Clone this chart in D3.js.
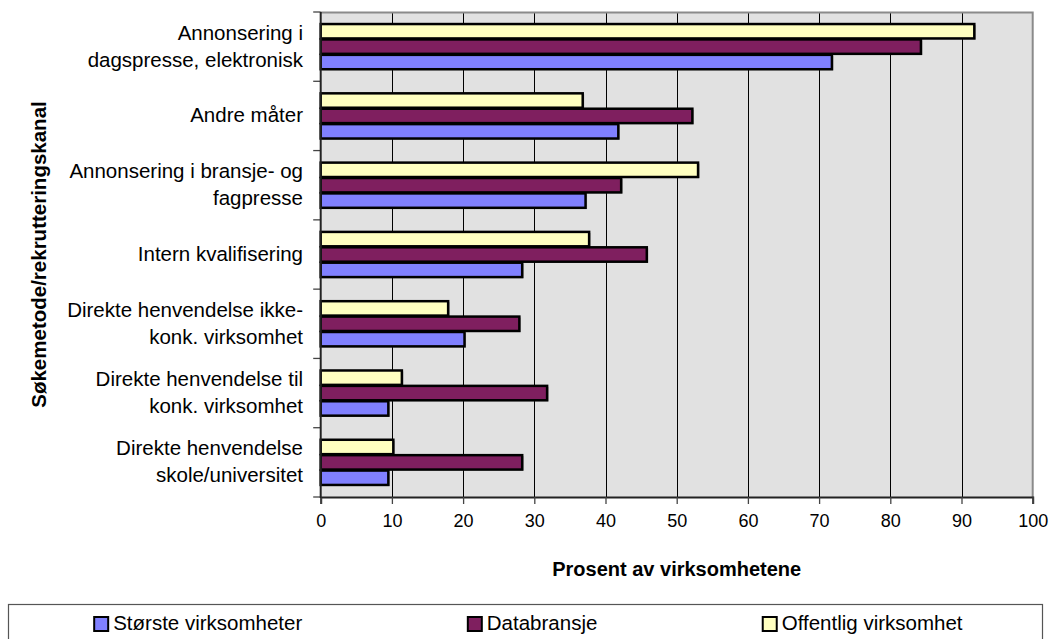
<!DOCTYPE html>
<html>
<head>
<meta charset="utf-8">
<script src="https://cdn.jsdelivr.net/npm/d3@7"></script>
<style>
  html, body { margin: 0; padding: 0; background: #fff; }
  svg { display: block; font-family: "Liberation Sans", Arial, sans-serif; }
</style>
</head>
<body>
<svg id="chart" width="1052" height="639"></svg>
<script>
// Recruitment channels, top to bottom
const categories = [
  "Annonsering i\ndagspresse, elektronisk",
  "Andre måter",
  "Annonsering i bransje- og\nfagpresse",
  "Intern kvalifisering",
  "Direkte henvendelse ikke-\nkonk. virksomhet",
  "Direkte henvendelse til\nkonk. virksomhet",
  "Direkte henvendelse\nskole/universitet"
];

// Percent of companies per channel
const storsteVirksomheter = [71.8, 41.8, 37.2, 28.3, 20.2, 9.5, 9.5];
const databransje        = [84.3, 52.2, 42.2, 45.8, 27.9, 31.8, 28.3];
const offentligVirksomhet = [91.8, 36.8, 53.0, 37.7, 17.9, 11.4, 10.2];

const seriesNames  = ["Største virksomheter", "Databransje", "Offentlig virksomhet"];
const seriesColors = ["#8080FF", "#7F1F5F", "#FFFFC0"];
// Within each category the bars run Offentlig, Databransje, Største from the top
const barOrder = ["Offentlig virksomhet", "Databransje", "Største virksomheter"];

const xTicks = [0, 10, 20, 30, 40, 50, 60, 70, 80, 90, 100];
const xTitle = "Prosent av virksomhetene";
const yTitle = "Søkemetode/rekrutteringskanal";

const seriesValues = {
  "Største virksomheter": storsteVirksomheter,
  "Databransje": databransje,
  "Offentlig virksomhet": offentligVirksomhet
};
const colorOf = d3.scaleOrdinal().domain(seriesNames).range(seriesColors);

const svg = d3.select("#chart");
const plot = { left: 320.7, right: 1032.7, top: 12, bottom: 497 };

const x = d3.scaleLinear().domain([0, 100]).range([plot.left, plot.right]);
const y = d3.scaleBand().domain(categories).range([plot.top, plot.bottom]).padding(0);
const yInner = d3.scaleBand().domain(barOrder).range([0, y.bandwidth()])
  .paddingInner(0).paddingOuter(0.75);

// Plot background
svg.append("rect")
  .attr("x", plot.left).attr("y", plot.top)
  .attr("width", plot.right - plot.left).attr("height", plot.bottom - plot.top)
  .attr("fill", "#E1E1E1");

// Vertical gridlines
svg.append("g").selectAll("line")
  .data(xTicks.filter(t => t > 0 && t < 100))
  .join("line")
  .attr("x1", d => Math.round(x(d)) + 0.5).attr("x2", d => Math.round(x(d)) + 0.5)
  .attr("y1", plot.top).attr("y2", plot.bottom)
  .attr("stroke", "#000").attr("stroke-width", 1);

// Frame: top and right in grey
svg.append("path")
  .attr("d", `M${plot.left},${plot.top + 0.5}H${plot.right}V${plot.bottom}`)
  .attr("fill", "none").attr("stroke", "#8a8a8a").attr("stroke-width", 2);

// Bars
const groups = svg.append("g").selectAll("g")
  .data(categories)
  .join("g")
  .attr("transform", d => `translate(0,${y(d)})`);

const barData = (cat, i) => barOrder.map(s => ({ series: s, value: seriesValues[s][i] }));

// soft shadow behind each bar
groups.selectAll("rect.shadow")
  .data((d, i) => barData(d, i))
  .join("rect")
  .attr("class", "shadow")
  .attr("x", x(0) + 1.5)
  .attr("y", d => yInner(d.series) + 1.5)
  .attr("width", d => x(d.value) - x(0))
  .attr("height", yInner.bandwidth() - 1)
  .attr("fill", "#777").attr("opacity", 0.55);

groups.selectAll("rect.bar")
  .data((d, i) => barData(d, i))
  .join("rect")
  .attr("class", "bar")
  .attr("x", x(0))
  .attr("y", d => yInner(d.series) + 0.5)
  .attr("width", d => x(d.value) - x(0))
  .attr("height", yInner.bandwidth() - 1)
  .attr("fill", d => colorOf(d.series))
  .attr("stroke", "#000").attr("stroke-width", 2.5);

// X axis
const xAxis = d3.axisBottom(x).tickValues(xTicks).tickSize(7).tickPadding(10).tickFormat(d3.format("d"));
const gx = svg.append("g")
  .attr("transform", `translate(0,${plot.bottom})`)
  .call(xAxis);
gx.select(".domain").attr("stroke", "#222").attr("stroke-width", 2);
gx.selectAll(".tick line").attr("stroke", "#444").attr("stroke-width", 1.3);
gx.selectAll(".tick text")
  .attr("font-family", "Liberation Sans, Arial, sans-serif")
  .attr("font-size", 18).attr("fill", "#000");

// Y axis: ticks at the category boundaries
const boundaries = categories.map(c => y(c)).concat([plot.bottom]);
svg.append("g").selectAll("line")
  .data(boundaries)
  .join("line")
  .attr("x1", plot.left - 7.5).attr("x2", plot.left)
  .attr("y1", d => d).attr("y2", d => d)
  .attr("stroke", "#444").attr("stroke-width", 1.3);
svg.append("line")
  .attr("x1", plot.left).attr("x2", plot.left)
  .attr("y1", plot.top).attr("y2", plot.bottom + 1)
  .attr("stroke", "#222").attr("stroke-width", 2);

// Category labels, right-aligned, possibly on two lines
const lineGap = 27;
const labels = svg.append("g")
  .attr("font-size", 20.5).attr("fill", "#000").attr("text-anchor", "end");
categories.forEach(c => {
  const lines = c.split("\n");
  const cy = y(c) + y.bandwidth() / 2;
  const t = labels.append("text");
  lines.forEach((ln, i) => {
    t.append("tspan")
      .attr("x", 303)
      .attr("y", cy + 6.5 + (i - (lines.length - 1) / 2) * lineGap)
      .text(ln);
  });
});

// Axis titles
svg.append("text")
  .attr("x", (plot.left + plot.right) / 2).attr("y", 575.5)
  .attr("text-anchor", "middle").attr("font-weight", "bold").attr("font-size", 20)
  .text(xTitle);

svg.append("text")
  .attr("transform", `translate(45.5,${(plot.top + plot.bottom) / 2}) rotate(-90)`)
  .attr("text-anchor", "middle").attr("font-weight", "bold").attr("font-size", 20.5)
  .text(yTitle);

// Legend
const legendBox = { left: 8.5, top: 604.5, right: 1042.5, bottom: 660 };
svg.append("rect")
  .attr("x", legendBox.left).attr("y", legendBox.top)
  .attr("width", legendBox.right - legendBox.left)
  .attr("height", legendBox.bottom - legendBox.top)
  .attr("fill", "#fff").attr("stroke", "#555").attr("stroke-width", 1.2);

const legend = svg.append("g");
const items = legend.selectAll("g").data(seriesNames).join("g");
items.append("rect")
  .attr("x", 0).attr("y", 617)
  .attr("width", 14).attr("height", 14)
  .attr("fill", d => colorOf(d))
  .attr("stroke", "#000").attr("stroke-width", 2);
items.append("text")
  .attr("x", 19).attr("y", 630)
  .attr("font-size", 20.5).attr("fill", "#000")
  .text(d => d);

// Spread the legend entries evenly across the box
const widths = items.nodes().map(n => n.getBBox().width);
const total = d3.sum(widths);
const gap = (legendBox.right - legendBox.left - total) / seriesNames.length;
let cursor = legendBox.left + gap / 2 + 3;
items.each(function (d, i) {
  d3.select(this).attr("transform", `translate(${cursor},0)`);
  cursor += widths[i] + gap;
});
</script>
</body>
</html>
